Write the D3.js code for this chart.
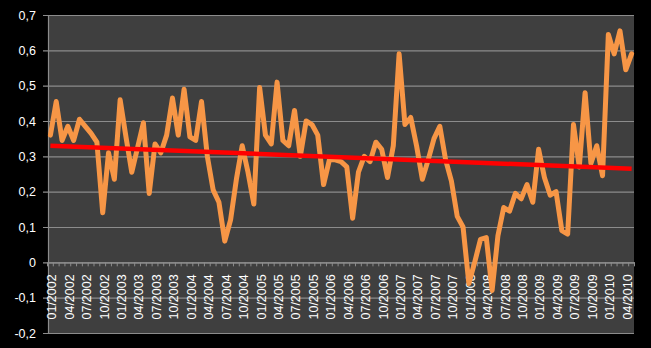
<!DOCTYPE html>
<html>
<head>
<meta charset="utf-8">
<script src="https://cdn.jsdelivr.net/npm/d3@7"></script>
<style>
  html, body { margin: 0; padding: 0; background: #000; }
  svg { display: block; }
</style>
</head>
<body>
<svg id="chart" width="651" height="348"></svg>
<script>
// ---- Data ----
const years = [2002, 2003, 2004, 2005, 2006, 2007, 2008, 2009, 2010];
const monthNames = ["01","02","03","04","05","06","07","08","09","10","11","12"];
const categories = [];
years.forEach(y => monthNames.forEach(m => { if (y < 2010 || +m <= 5) categories.push(m + "/" + y); }));

const seriesValues = [
  0.36, 0.455, 0.345, 0.385, 0.345, 0.405, 0.385, 0.365, 0.34, 0.14,
  0.31, 0.235, 0.46, 0.355, 0.255, 0.325, 0.395, 0.195, 0.335, 0.31,
  0.36, 0.465, 0.36, 0.49, 0.355, 0.345, 0.455, 0.30, 0.205, 0.17,
  0.06, 0.12, 0.235, 0.33, 0.255, 0.165, 0.495, 0.36, 0.335, 0.51,
  0.345, 0.33, 0.43, 0.30, 0.40, 0.39, 0.36, 0.22, 0.29, 0.29,
  0.285, 0.27, 0.125, 0.255, 0.30, 0.285, 0.34, 0.32, 0.24, 0.33,
  0.59, 0.39, 0.41, 0.33, 0.235, 0.29, 0.35, 0.385, 0.29, 0.23,
  0.13, 0.10, -0.06, 0.0, 0.065, 0.07, -0.08, 0.075, 0.155, 0.145,
  0.195, 0.18, 0.22, 0.17, 0.32, 0.24, 0.19, 0.20, 0.09, 0.08,
  0.39, 0.27, 0.48, 0.28, 0.33, 0.245, 0.645, 0.59, 0.655, 0.545,
  0.59
];

// linear trend line end points (first and last category)
const trendValues = [0.330, 0.265];

const yTicks = [-0.2, -0.1, 0, 0.1, 0.2, 0.3, 0.4, 0.5, 0.6, 0.7];
const tickLabels = [
  "01/2002","04/2002","07/2002","10/2002","01/2003","04/2003","07/2003","10/2003",
  "01/2004","04/2004","07/2004","10/2004","01/2005","04/2005","07/2005","10/2005",
  "01/2006","04/2006","07/2006","10/2006","01/2007","04/2007","07/2007","10/2007",
  "01/2008","04/2008","07/2008","10/2008","01/2009","04/2009","07/2009","10/2009",
  "01/2010","04/2010"
];

// ---- Layout ----
const plot = { left: 48, right: 634, top: 15, bottom: 333 };
const svg = d3.select("#chart");
svg.append("rect").attr("width", 651).attr("height", 348).attr("fill", "#000");

const x = d3.scaleBand().domain(categories).range([plot.left - 0.5, plot.right + 0.5]);
const y = d3.scaleLinear().domain([-0.2, 0.7]).range([plot.bottom, plot.top]);
const cx = c => x(c) + x.bandwidth() / 2;

svg.append("rect")
  .attr("x", plot.left).attr("y", plot.top)
  .attr("width", plot.right - plot.left).attr("height", plot.bottom - plot.top)
  .attr("fill", "#3f3f3f");

const gridColor = "#8c8c8c";
const fmt = v => (Math.abs(v) < 1e-9 ? "0" : v.toFixed(1).replace(".", ","));

// Y axis (gridlines + outside ticks)
const yAxis = d3.axisLeft(y).tickValues(yTicks).tickSize(-(plot.right - plot.left)).tickSizeOuter(0).tickFormat(fmt).tickPadding(12);
const gy = svg.append("g").attr("transform", `translate(${plot.left},0)`).call(yAxis);
gy.select(".domain").attr("stroke", gridColor).attr("stroke-width", 1.2);
gy.selectAll(".tick line").attr("stroke", gridColor).attr("stroke-width", 1.2).attr("x1", -5);
gy.selectAll(".tick text")
  .attr("fill", "#fff").attr("font-family", "'Liberation Sans', Arial, sans-serif")
  .attr("font-size", 12.5).attr("x", -12);

// X axis at y = 0
const xAxis = d3.axisBottom(x).tickValues(tickLabels).tickSize(0).tickSizeOuter(0);
const gx = svg.append("g").attr("transform", `translate(0,${y(0)})`).call(xAxis);
gx.select(".domain").attr("stroke", gridColor).attr("stroke-width", 1.2);
gx.selectAll(".tick text")
  .attr("fill", "#fff").attr("font-family", "'Liberation Sans', Arial, sans-serif")
  .attr("font-size", 12.5)
  .attr("text-anchor", "end")
  .attr("transform", "rotate(-90)")
  .attr("x", -12).attr("y", 1.5).attr("dy", "0.35em");

// category boundary tick marks
const boundaries = categories.map(c => x(c)).concat([x(categories[categories.length - 1]) + x.bandwidth()]);
svg.append("g").selectAll("line").data(boundaries).join("line")
  .attr("x1", d => d).attr("x2", d => d)
  .attr("y1", y(0)).attr("y2", y(0) + 4)
  .attr("stroke", gridColor).attr("stroke-width", 1);

// Series line
const line = d3.line().x((d, i) => cx(categories[i])).y(d => y(d)).curve(d3.curveLinear);
svg.append("path").datum(seriesValues)
  .attr("d", line)
  .attr("fill", "none").attr("stroke", "#F79646")
  .attr("stroke-width", 5).attr("stroke-linejoin", "round").attr("stroke-linecap", "round");

// Trend line
const trendCats = [categories[0], categories[categories.length - 1]];
svg.append("path").datum(trendValues)
  .attr("d", d3.line().x((d, i) => cx(trendCats[i])).y(d => y(d)))
  .attr("fill", "none").attr("stroke", "#FF0000").attr("stroke-width", 4.5);
</script>
</body>
</html>
